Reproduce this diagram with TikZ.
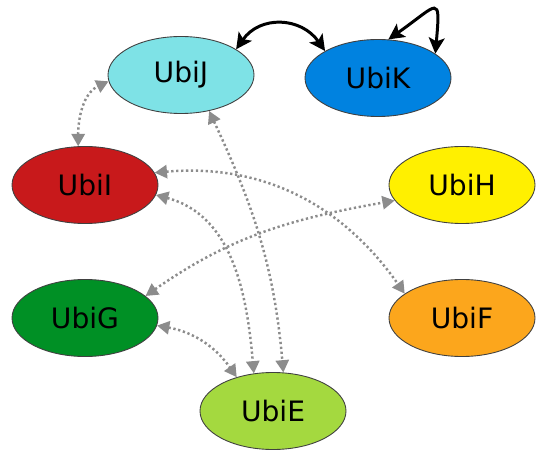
\documentclass[tikz,border=0pt]{standalone}
\usepackage{fontspec}
\setmainfont{DejaVu Sans}
\usetikzlibrary{shapes,arrows.meta,positioning,calc}

\begin{document}
\begin{tikzpicture}[
    ubi/.style = {ellipse, draw=black!75, line width=0.5pt, minimum width=2.92cm, minimum height=1.54cm, inner sep=0pt, font=\fontsize{16}{18}\selectfont},
    link/.style = {draw=black!45, line width=1.4pt, dash pattern=on 1.3pt off 1.5pt, {Triangle[length=7pt,width=7.5pt,fill=black!45]}-{Triangle[length=7pt,width=7.5pt,fill=black!45]}},
    bind/.style = {draw=black, line width=1.7pt, {Stealth[length=9pt,width=9pt,inset=2pt]}-{Stealth[length=9pt,width=9pt,inset=2pt]}}
]
\useasboundingbox (0,0) rectangle (10.72,8.98);

\node[ubi, fill={rgb,255:red,126;green,226;blue,230}] (ubij) at (3.62,7.48) {UbiJ};
\node[ubi, fill={rgb,255:red,0;green,130;blue,224}] (ubik) at (7.56,7.42) {UbiK};
\node[ubi, fill={rgb,255:red,200;green,25;blue,27}] (ubii) at (1.70,5.28) {UbiI};
\node[ubi, fill={rgb,255:red,255;green,240;blue,0}] (ubih) at (9.24,5.28) {UbiH};
\node[ubi, fill={rgb,255:red,0;green,144;blue,37}] (ubig) at (1.70,2.62) {UbiG};
\node[ubi, fill={rgb,255:red,252;green,166;blue,28}] (ubif) at (9.24,2.62) {UbiF};
\node[ubi, fill={rgb,255:red,164;green,217;blue,63}] (ubie) at (5.46,0.76) {UbiE};

% black arrows
\draw[bind] (ubij.25) to[out=55, in=125, looseness=1.2] (ubik.153);
\draw[bind] (ubik.75) to[out=35, in=85, looseness=3.2] (ubik.23);

% dotted arrows
\draw[link] (ubii.100) to[out=90, in=205] (ubij.185);
\draw[link] (ubij.308) to[out=-65, in=95] (ubie.75);
\draw[link] (ubii.10) to[out=5, in=125] (ubif.157);
\draw[link] (ubii.352) to[out=-15, in=95] (ubie.117);
\draw[link] (ubig.20) to[out=35, in=190] (ubih.193);
\draw[link] (ubig.354) to[out=-10, in=125] (ubie.137);
\end{tikzpicture}
\end{document}
